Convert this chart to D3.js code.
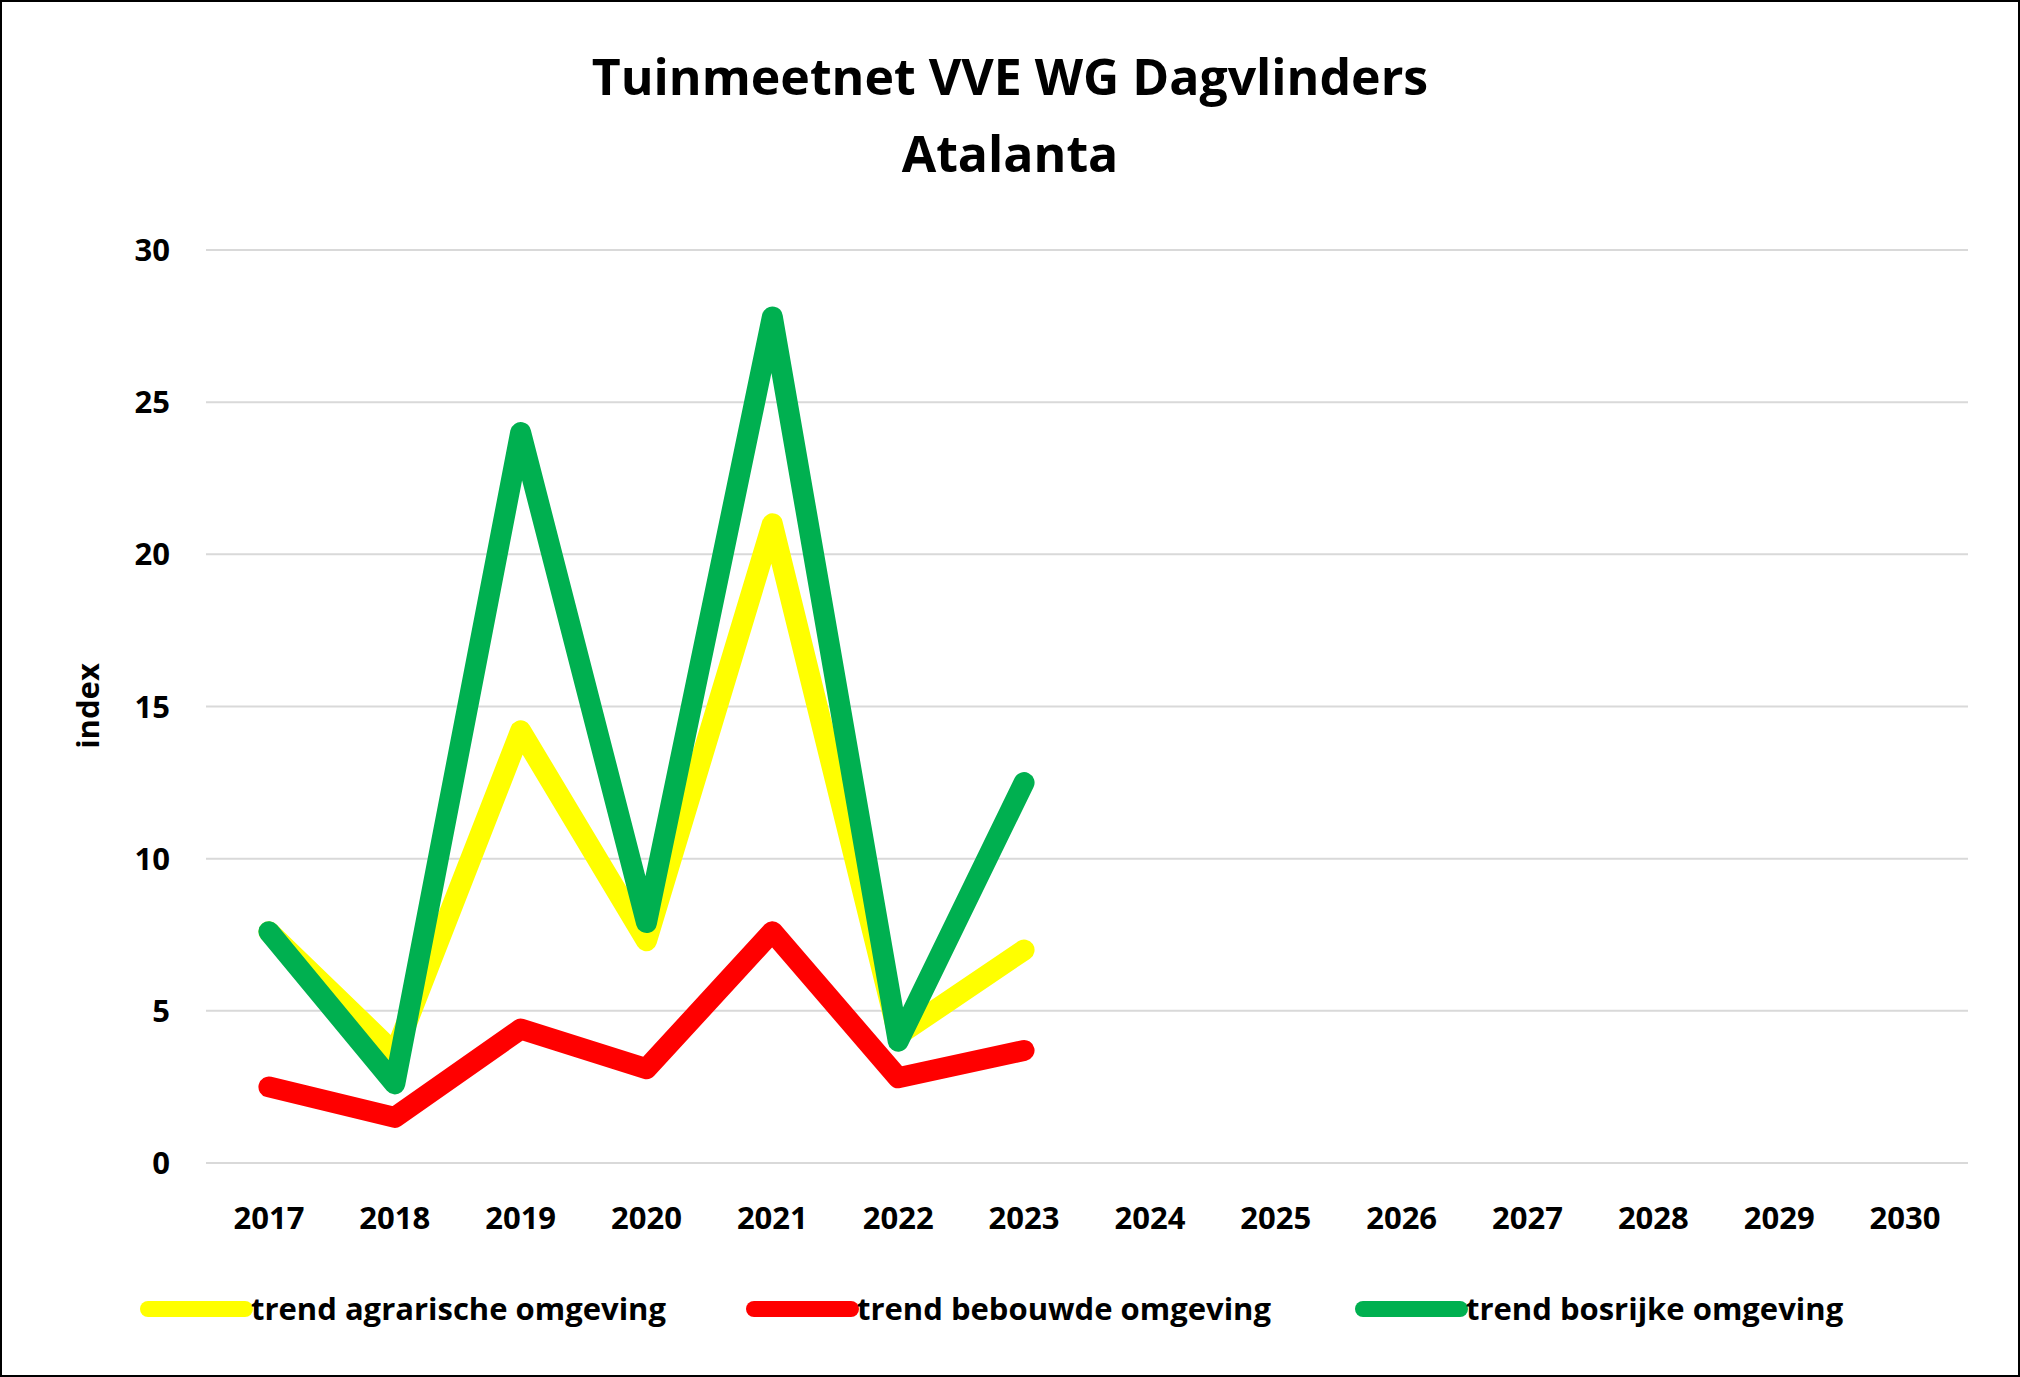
<!DOCTYPE html>
<html><head><meta charset="utf-8">
<script src="https://cdn.jsdelivr.net/npm/d3@7"></script>
<style>body{margin:0;background:#fff}text{font-family:"Open Sans",sans-serif;font-weight:bold}</style>
</head><body><svg id="c" width="2020" height="1377"></svg>
<script>
// chart values
const years = ["2017","2018","2019","2020","2021","2022","2023","2024","2025","2026","2027","2028","2029","2030"];
const agrarisch = [7.6, 3.6, 14.2, 7.3, 21.0, 4.2, 7.0];
const bebouwd = [2.5, 1.5, 4.4, 3.1, 7.6, 2.8, 3.7];
const bosrijk = [7.6, 2.6, 24.0, 7.9, 27.8, 4.0, 12.5];
const yTicks = [0, 5, 10, 15, 20, 25, 30];

const series = [
  {name: "trend agrarische omgeving", color: "#ffff00", values: agrarisch, lx: 148},
  {name: "trend bebouwde omgeving", color: "#ff0000", values: bebouwd, lx: 754},
  {name: "trend bosrijke omgeving", color: "#00b050", values: bosrijk, lx: 1363}
];

const svg = d3.select("#c");
svg.append("rect").attr("x", 1).attr("y", 1).attr("width", 2018).attr("height", 1375)
  .attr("fill", "#fff").attr("stroke", "#000").attr("stroke-width", 2);

const x = d3.scaleBand().domain(years).range([206, 1968]);
const y = d3.scaleLinear().domain([0, 30]).range([1163, 250]);

svg.append("text").attr("x", 1010).attr("y", 95).attr("text-anchor", "middle")
  .attr("font-size", 50).text("Tuinmeetnet VVE WG Dagvlinders");
svg.append("text").attr("x", 1010).attr("y", 172).attr("text-anchor", "middle")
  .attr("font-size", 50).text("Atalanta");

svg.append("g").selectAll("line").data(yTicks).join("line")
  .attr("x1", 206).attr("x2", 1968).attr("y1", d => y(d)).attr("y2", d => y(d))
  .attr("stroke", "#d9d9d9").attr("stroke-width", 2);
svg.append("g").selectAll("text").data(yTicks).join("text")
  .attr("x", 170).attr("y", d => y(d) + 11).attr("text-anchor", "end")
  .attr("font-size", 31).text(d => d);
svg.append("g").selectAll("text").data(years).join("text")
  .attr("x", d => x(d) + x.bandwidth() / 2).attr("y", 1229).attr("text-anchor", "middle")
  .attr("font-size", 31).text(d => d);

svg.append("text").attr("transform", "translate(99,706) rotate(-90)")
  .attr("text-anchor", "middle").attr("font-size", 31).text("index");

const line = d3.line().x((d, i) => x(years[i]) + x.bandwidth() / 2).y(d => y(d));
series.forEach(s => {
  svg.append("path").attr("d", line(s.values)).attr("fill", "none")
    .attr("stroke", s.color).attr("stroke-width", 21)
    .attr("stroke-linejoin", "round").attr("stroke-linecap", "round");
  svg.append("line").attr("x1", s.lx).attr("x2", s.lx + 97).attr("y1", 1309).attr("y2", 1309)
    .attr("stroke", s.color).attr("stroke-width", 16).attr("stroke-linecap", "round");
  svg.append("text").attr("x", s.lx + 103).attr("y", 1320).attr("font-size", 31).text(s.name);
});
</script></body></html>
